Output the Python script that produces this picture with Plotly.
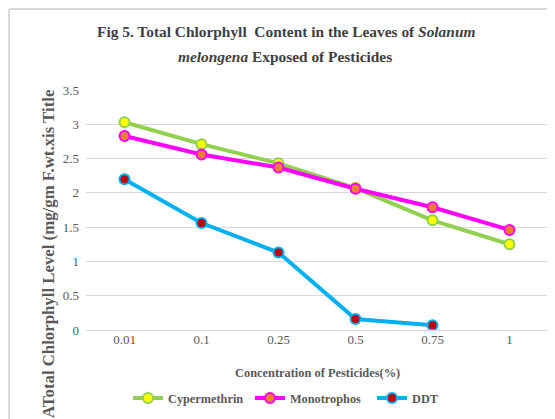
import plotly.graph_objects as go

# concentrations (category labels on the x axis)
concentrations = ["0.01", "0.1", "0.25", "0.5", "0.75", "1"]

# total chlorophyll (mg/gm F.wt.)
cypermethrin = [3.03, 2.71, 2.43, 2.07, 1.60, 1.25]
monotrophos = [2.83, 2.56, 2.37, 2.06, 1.79, 1.46]
ddt = [2.20, 1.56, 1.13, 0.16, 0.07]

y_ticks = [0, 0.5, 1, 1.5, 2, 2.5, 3, 3.5]
y_tick_text = ["0", "0.5", "1", "1.5", "2", "2.5", "3", "3.5"]

FONT = "Liberation Serif"
GREY = "#595959"

# the page body has an 8px margin, so the figure sits at (8, 8) in the window
OFF = 8
W, H = 555 - OFF, 419 - OFF
# plot area, in window pixels
L, R, T, B = 86, 548, 90, 330


def px_x(x):
    return (x - L) / (R - L)


def px_y(y):
    return (B - y) / (B - T)


series = [
    ("Cypermethrin", cypermethrin, "#92D050", "#FFFF00"),
    ("Monotrophos", monotrophos, "#FF00FF", "#ED7D31"),
    ("DDT", ddt, "#00B0F0", "#C00000"),
]

fig = go.Figure()
for name, vals, line_col, fill_col in series:
    fig.add_trace(go.Scatter(
        x=concentrations[:len(vals)],
        y=vals,
        name="<b>" + name + "</b>",
        mode="lines+markers",
        line=dict(color=line_col, width=4),
        marker=dict(size=10, color=fill_col, line=dict(color=line_col, width=2)),
    ))

fig.update_layout(
    width=W,
    height=H,
    margin=dict(l=L - OFF, r=555 - R, t=T - OFF, b=419 - B),
    paper_bgcolor="white",
    plot_bgcolor="white",
    font=dict(family=FONT, color=GREY, size=13),
    xaxis=dict(
        type="category",
        categoryorder="array",
        categoryarray=concentrations,
        range=[-0.5, 5.5],
        showgrid=False,
        showline=False,
        ticks="",
        automargin=False,
        tickfont=dict(family=FONT, size=13, color=GREY),
    ),
    yaxis=dict(
        range=[0, 3.5],
        tickvals=y_ticks,
        ticktext=y_tick_text,
        showgrid=True,
        gridcolor="#D9D9D9",
        gridwidth=1,
        zeroline=True,
        zerolinecolor="#D9D9D9",
        zerolinewidth=1,
        showline=False,
        ticks="",
        automargin=False,
        ticklabelstandoff=6,
        tickfont=dict(family=FONT, size=13, color=GREY),
    ),
    legend=dict(
        orientation="h",
        x=px_x(128), xanchor="left",
        y=px_y(398), yanchor="middle",
        font=dict(family=FONT, size=12.3, color=GREY),
        itemwidth=30,
        entrywidth=77,
        entrywidthmode="pixels",
    ),
    showlegend=True,
)

# title, two lines
fig.add_annotation(
    text="<b>Fig 5. Total Chlorphyll  Content in the Leaves of <i>Solanum</i></b>",
    xref="paper", yref="paper", x=px_x(286), y=px_y(32),
    xanchor="center", yanchor="middle", showarrow=False,
    font=dict(family=FONT, size=15.4, color="#404040"),
)
fig.add_annotation(
    text="<b><i>melongena</i> Exposed of Pesticides</b>",
    xref="paper", yref="paper", x=px_x(285), y=px_y(56),
    xanchor="center", yanchor="middle", showarrow=False,
    font=dict(family=FONT, size=15.4, color="#404040"),
)

fig.add_annotation(
    text="<b>Concentration of Pesticides(%)</b>",
    xref="paper", yref="paper", x=px_x(317), y=px_y(373),
    xanchor="center", yanchor="middle", showarrow=False,
    font=dict(family=FONT, size=12.4, color=GREY),
)
fig.add_annotation(
    text="<b>ATotal Chlorphyll Level (mg/gm F.wt.xis Title</b>",
    xref="paper", yref="paper", x=px_x(48), y=px_y(254),
    xanchor="center", yanchor="middle", textangle=-90, showarrow=False,
    font=dict(family=FONT, size=16.8, color=GREY),
)

# chart frame (top and left edges visible in the reference)
fig.add_shape(type="line", xref="paper", yref="paper",
              x0=px_x(OFF + 1), x1=px_x(560), y0=px_y(OFF + 1), y1=px_y(OFF + 1),
              line=dict(color="#D9D9D9", width=2))
fig.add_shape(type="line", xref="paper", yref="paper",
              x0=px_x(OFF + 1), x1=px_x(OFF + 1), y0=px_y(OFF + 1), y1=px_y(425),
              line=dict(color="#D9D9D9", width=2))

fig.write_html("out.html")
